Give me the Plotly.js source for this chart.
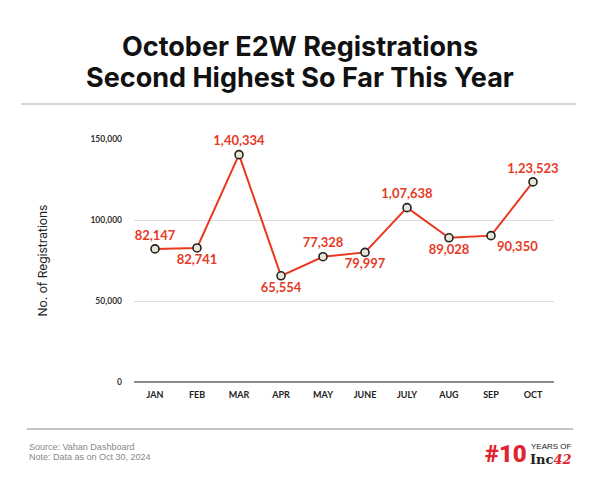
<!DOCTYPE html>
<html><head><meta charset="utf-8">
<script src="https://cdn.plot.ly/plotly-3.0.1.min.js"></script>
<style>html,body{margin:0;padding:0;background:#fff}#c{width:600px;height:480px}</style>
</head><body><div id="c"></div>
<script>
const months = ['JAN','FEB','MAR','APR','MAY','JUNE','JULY','AUG','SEP','OCT'];
const registrations = [82147, 82741, 140334, 65554, 77328, 79997, 107638, 89028, 90350, 123523];
const valueLabels = ['82,147','82,741','1,40,334','65,554','77,328','79,997','1,07,638','89,028','90,350','1,23,523'];
const labelPositions = ['top center','bottom center','top center','bottom center','top center','bottom center','top center','bottom center','bottom right','top center'];
const yTicks = [0, 50000, 100000, 150000];
const yTickText = ['0','50,000','100,000','150,000'];

const L = 134, R = 554, T = 139, B = 382;
const px = x => (x - L) / (R - L);
const py = y => (B - y) / (B - T);

const trace = {
  x: months, y: registrations, type: 'scatter', mode: 'lines+markers+text',
  text: valueLabels, textposition: labelPositions, cliponaxis: false,
  textfont: {family: 'Lato, sans-serif', size: 13, color: '#e53a26', weight: 700},
  line: {color: '#e8391f', width: 2},
  marker: {size: 8, color: '#e9e5d9', line: {color: '#222', width: 1.6}},
  hoverinfo: 'none'
};

const layout = {
  width: 600, height: 480, showlegend: false,
  paper_bgcolor: '#fff', plot_bgcolor: '#fff',
  margin: {l: L, r: 600 - R, t: T, b: 480 - B},
  xaxis: {range: [-0.5, 9.5], showgrid: false, zeroline: false, showline: false, ticks: '',
    tickfont: {family: 'Lato, sans-serif', size: 9, color: '#222', weight: 700}, ticklabelstandoff: 6, fixedrange: true},
  yaxis: {range: [0, 150000], tickvals: yTicks, ticktext: yTickText, showgrid: true, gridcolor: '#dcdcdc', gridwidth: 1,
    zeroline: true, zerolinecolor: '#8a8a8a', zerolinewidth: 1.5, showline: false, ticks: '',
    tickfont: {family: 'Lato, sans-serif', size: 8.5, color: '#333', weight: 700}, ticklabelstandoff: 11,
    title: {text: 'No. of Registrations', font: {family: 'Inter, sans-serif', size: 12, color: '#222'}, standoff: 40}, fixedrange: true},
  shapes: [
    {type: 'line', xref: 'paper', yref: 'paper', x0: px(21), x1: px(576), y0: py(104), y1: py(104), line: {color: '#c8c8c8', width: 1.5}},
    {type: 'line', xref: 'paper', yref: 'paper', x0: px(27), x1: px(573), y0: py(429), y1: py(429), line: {color: '#8a8a8a', width: 1}}
  ],
  annotations: [
    {xref: 'paper', yref: 'paper', x: px(300), y: py(47), text: 'October E2W Registrations', showarrow: false,
      xanchor: 'center', yanchor: 'middle', font: {family: 'Inter, sans-serif', size: 27, color: '#111', weight: 700}},
    {xref: 'paper', yref: 'paper', x: px(300), y: py(78), text: 'Second Highest So Far This Year', showarrow: false,
      xanchor: 'center', yanchor: 'middle', font: {family: 'Inter, sans-serif', size: 27, color: '#111', weight: 700}},
    {xref: 'paper', yref: 'paper', x: px(27), y: py(447), text: 'Source: Vahan Dashboard', showarrow: false,
      xanchor: 'left', yanchor: 'middle', font: {family: 'Liberation Sans, Arial, sans-serif', size: 9, color: '#888'}},
    {xref: 'paper', yref: 'paper', x: px(27), y: py(457), text: 'Note: Data as on Oct 30, 2024', showarrow: false,
      xanchor: 'left', yanchor: 'middle', font: {family: 'Liberation Sans, Arial, sans-serif', size: 9, color: '#888'}},
    {xref: 'paper', yref: 'paper', x: px(529), y: py(454), text: '#10', showarrow: false,
      xanchor: 'right', yanchor: 'middle', font: {family: 'Roboto, sans-serif', size: 24, color: '#e0252e', weight: 900}},
    {xref: 'paper', yref: 'paper', x: px(529), y: py(446), text: 'YEARS OF', showarrow: false,
      xanchor: 'left', yanchor: 'middle', font: {family: 'Liberation Sans, sans-serif', size: 8, color: '#222'}},
    {xref: 'paper', yref: 'paper', x: px(528), y: py(459), text: '<b>Inc</b><span style="color:#e0252e"><i><b>42</b></i></span>', showarrow: false,
      xanchor: 'left', yanchor: 'middle', font: {family: 'DejaVu Serif, serif', size: 13, color: '#222'}}
  ]
};

Plotly.newPlot('c', [trace], layout, {displayModeBar: false, staticPlot: true});
</script></body></html>
